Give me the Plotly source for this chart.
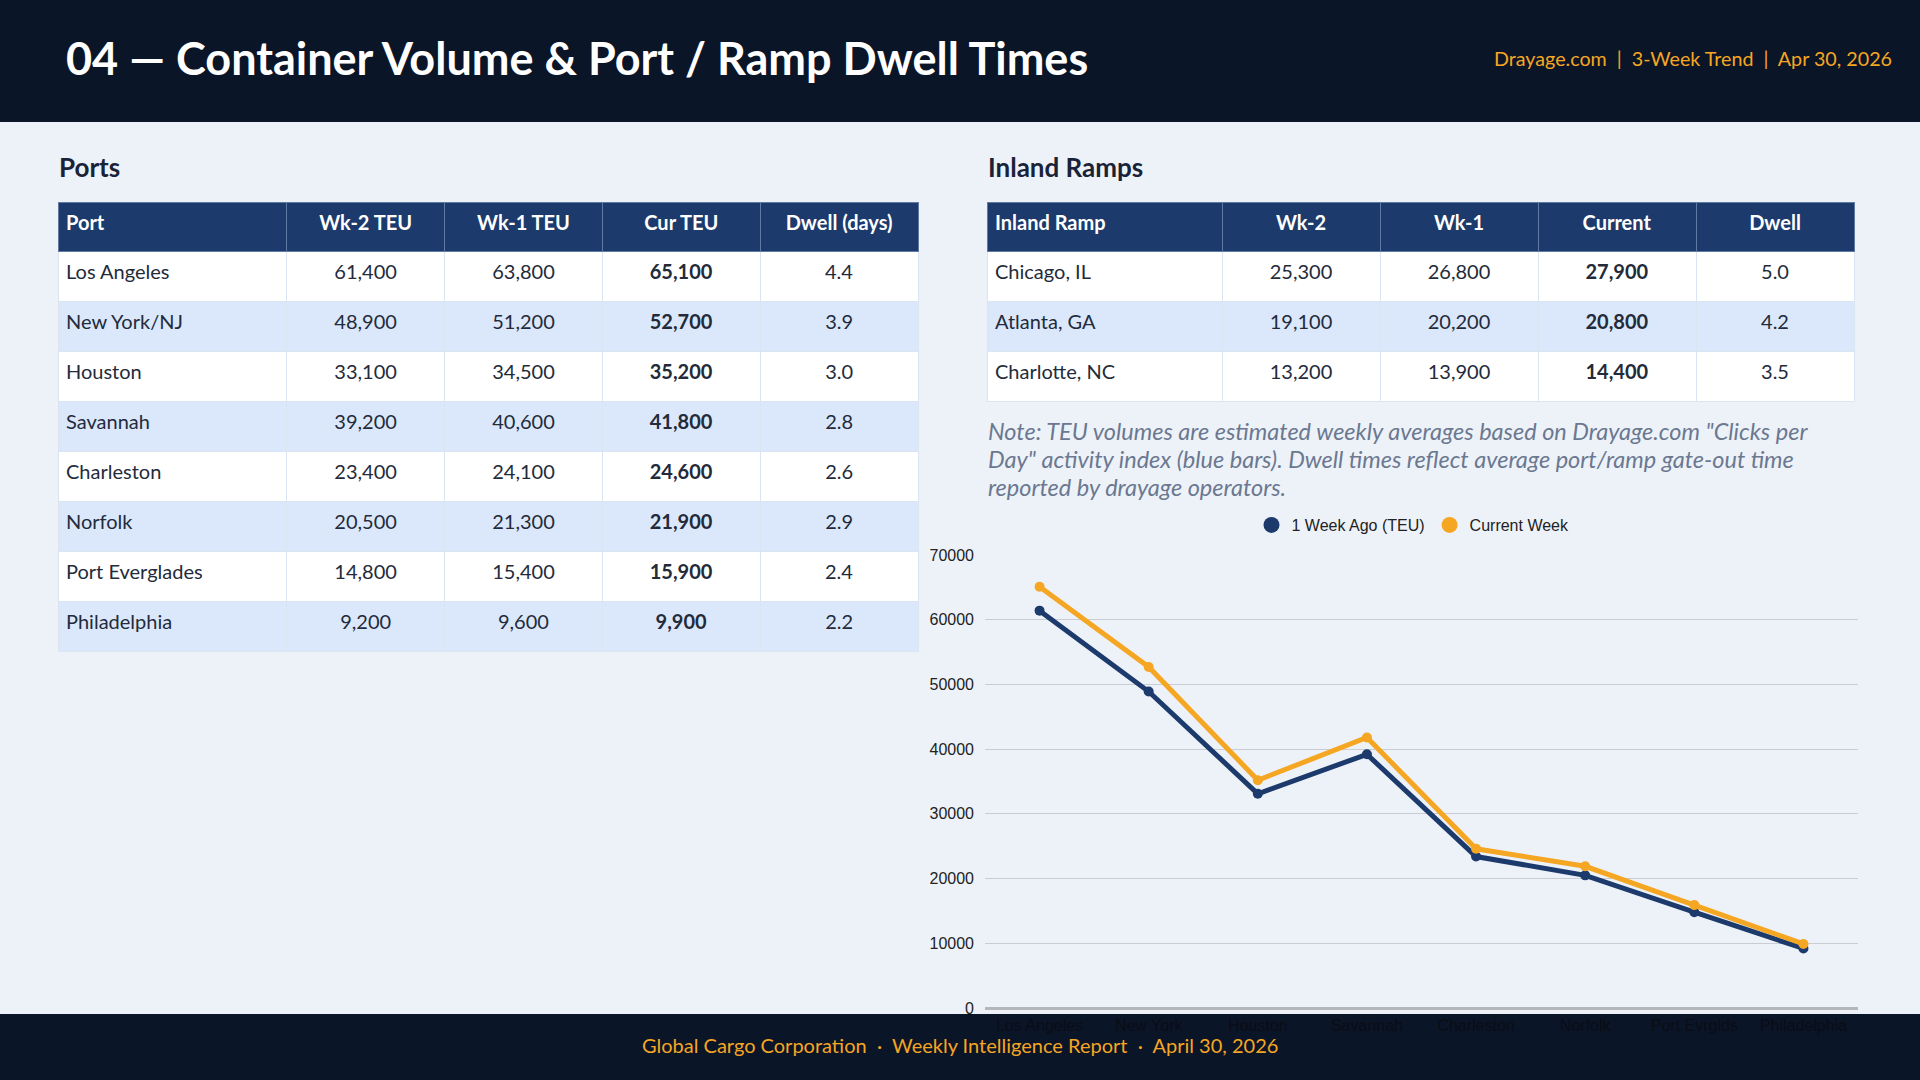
import plotly.graph_objects as go

W, H = 1920, 1080

# ---------------- data ----------------
ports = ["Los Angeles", "New York/NJ", "Houston", "Savannah", "Charleston",
         "Norfolk", "Port Everglades", "Philadelphia"]
ports_short = ["Los Angeles", "New York", "Houston", "Savannah", "Charleston",
               "Norfolk", "Port Evrglds", "Philadelphia"]
port_wk2 = [61400, 48900, 33100, 39200, 23400, 20500, 14800, 9200]
port_wk1 = [63800, 51200, 34500, 40600, 24100, 21300, 15400, 9600]
port_cur = [65100, 52700, 35200, 41800, 24600, 21900, 15900, 9900]
port_dwell = [4.4, 3.9, 3.0, 2.8, 2.6, 2.9, 2.4, 2.2]

ramps = ["Chicago, IL", "Atlanta, GA", "Charlotte, NC"]
ramp_wk2 = [25300, 19100, 13200]
ramp_wk1 = [26800, 20200, 13900]
ramp_cur = [27900, 20800, 14400]
ramp_dwell = [5.0, 4.2, 3.5]

port_headers = ["Port", "Wk-2 TEU", "Wk-1 TEU", "Cur TEU", "Dwell (days)"]
ramp_headers = ["Inland Ramp", "Wk-2", "Wk-1", "Current", "Dwell"]

y_ticks = [0, 10000, 20000, 30000, 40000, 50000, 60000, 70000]

title_text = "04 — Container Volume &amp; Port / Ramp Dwell Times"
header_right = "Drayage.com  |  3-Week Trend  |  Apr 30, 2026"
footer_text = "Global Cargo Corporation  ·  Weekly Intelligence Report  ·  April 30, 2026"
note_lines = [
    "Note: TEU volumes are estimated weekly averages based on Drayage.com \"Clicks per",
    "Day\" activity index (blue bars). Dwell times reflect average port/ramp gate-out time",
    "reported by drayage operators.",
]

# ---------------- styles ----------------
NAVY = "#1c3a6b"
ORANGE = "#f5a623"
DARK = "#0b1528"
BG = "#edf2f9"
ALT = "#dbe8fb"
TXT = "#232b3b"
FONT = "Lato"
CHART_FONT = "Liberation Sans"


def px_x(p):
    return p / W


def px_y(p):
    return 1 - p / H


def fmt(v):
    return f"{v:,}"


def table_trace(headers, names, wk2, wk1, cur, dwell, x0, x1, y0, y1, widths):
    n = len(names)
    fills = [("white" if i % 2 == 0 else ALT) for i in range(n)]
    return go.Table(
        domain=dict(x=[px_x(x0), px_x(x1)], y=[px_y(y1), px_y(y0)]),
        columnwidth=widths,
        header=dict(
            values=[f"<b>{h}</b>" for h in headers],
            fill_color=NAVY,
            line=dict(color="#5f7aa3", width=1),
            align=["left", "center", "center", "center", "center"],
            font=dict(family=FONT, size=20, color="white"),
            height=49,
        ),
        cells=dict(
            values=[[f"<span>{s}</span>" for s in names],
                    [f"<span>{fmt(v)}</span>" for v in wk2],
                    [f"<span>{fmt(v)}</span>" for v in wk1],
                    [f"<b>{fmt(v)}</b>" for v in cur],
                    [f"<span>{v:.1f}</span>" for v in dwell]],
            fill_color=[fills] * 5,
            line=dict(color="#dbe4f1", width=1),
            align=["left", "center", "center", "center", "center"],
            font=dict(family=FONT, size=20, color=TXT),
            height=50,
        ),
    )


fig = go.Figure()

fig.add_trace(table_trace(port_headers, ports, port_wk2, port_wk1, port_cur, port_dwell,
                          58, 918, 202, 680, [229, 158, 158, 158, 158]))
fig.add_trace(table_trace(ramp_headers, ramps, ramp_wk2, ramp_wk1, ramp_cur, ramp_dwell,
                          987, 1854, 202, 420, [235, 158, 158, 158, 158]))

# line chart
fig.add_trace(go.Scatter(
    x=ports_short, y=port_wk2, mode="lines+markers", name="1 Week Ago (TEU)",
    line=dict(color=NAVY, width=5), marker=dict(color=NAVY, size=10),
    showlegend=False, xaxis="x", yaxis="y"))
fig.add_trace(go.Scatter(
    x=ports_short, y=port_cur, mode="lines+markers", name="Current Week",
    line=dict(color=ORANGE, width=5), marker=dict(color=ORANGE, size=10),
    showlegend=False, xaxis="x", yaxis="y"))
# legend entries (circle only)
fig.add_trace(go.Scatter(x=[None], y=[None], mode="markers", name="1 Week Ago (TEU)",
                         marker=dict(color=NAVY, size=16)))
fig.add_trace(go.Scatter(x=[None], y=[None], mode="markers", name="Current Week",
                         marker=dict(color=ORANGE, size=16)))

shapes = [
    dict(type="rect", xref="paper", yref="paper", x0=0, x1=1, y0=px_y(122), y1=1,
         fillcolor=DARK, line=dict(width=0), layer="below"),
    dict(type="rect", xref="paper", yref="paper", x0=0, x1=1, y0=0, y1=px_y(1014),
         fillcolor=DARK, line=dict(width=0), layer="below"),
]

annotations = [
    dict(text=f"<b>{title_text}</b>", xref="paper", yref="paper", x=px_x(64), y=px_y(58),
         xanchor="left", yanchor="middle", showarrow=False,
         font=dict(family=FONT, size=45, color="white")),
    dict(text=header_right, xref="paper", yref="paper", x=px_x(1894), y=px_y(59),
         xanchor="right", yanchor="middle", showarrow=False,
         font=dict(family=FONT, size=19.7, color=ORANGE)),
    dict(text="<b>Ports</b>", xref="paper", yref="paper", x=px_x(57), y=px_y(167),
         xanchor="left", yanchor="middle", showarrow=False,
         font=dict(family=FONT, size=26, color="#1a2238")),
    dict(text="<b>Inland Ramps</b>", xref="paper", yref="paper", x=px_x(986), y=px_y(167),
         xanchor="left", yanchor="middle", showarrow=False,
         font=dict(family=FONT, size=26, color="#1a2238")),
    dict(text=footer_text, xref="paper", yref="paper", x=0.5, y=px_y(1045),
         xanchor="center", yanchor="middle", showarrow=False,
         font=dict(family=FONT, size=20, color=ORANGE)),
]
for i, line in enumerate(note_lines):
    annotations.append(dict(
        text=f"<i>{line}</i>", xref="paper", yref="paper", x=px_x(986), y=px_y(431 + 28 * i),
        xanchor="left", yanchor="middle", showarrow=False,
        font=dict(family=FONT, size=23.5, color="#6b7890")))

fig.update_layout(
    width=W, height=H,
    margin=dict(l=0, r=0, t=0, b=0, pad=0, autoexpand=False),
    paper_bgcolor=BG, plot_bgcolor="rgba(0,0,0,0)",
    shapes=shapes, annotations=annotations,
    showlegend=True,
    legend=dict(orientation="h", x=px_x(1413), y=px_y(525), xanchor="center", yanchor="middle",
                font=dict(family=CHART_FONT, size=16, color="#222222"),
                bgcolor="rgba(0,0,0,0)", itemsizing="trace", tracegroupgap=0),
    xaxis=dict(domain=[px_x(985), px_x(1858)], type="category",
               showgrid=False, zeroline=False, showline=False, automargin=False,
               ticklabelstandoff=6,
               tickfont=dict(family=CHART_FONT, size=16, color="#0a0d14"),
               range=[-0.5, len(ports_short) - 0.5], fixedrange=True),
    yaxis=dict(domain=[px_y(1008), px_y(555)], range=[0, 70000], tickvals=y_ticks,
               tickformat="d", showgrid=True, gridcolor="#c9cdd3", gridwidth=1,
               zeroline=True, zerolinecolor="#b3b6bb", zerolinewidth=3,
               showline=False, ticklabelstandoff=10, automargin=False,
               tickfont=dict(family=CHART_FONT, size=16, color="#222222"), fixedrange=True),
)

post = ("document.documentElement.style.margin='0';document.documentElement.style.padding='0';"
        "document.body.style.margin='0';document.body.style.padding='0';"
        "document.body.style.overflow='hidden';"
        "var d=document.getElementById('{plot_id}');"
        "d.style.position='fixed';d.style.top='0px';d.style.left='0px';")

fig.write_html("out.html", include_plotlyjs=True,
               config={"displayModeBar": False},
               post_script=post)
